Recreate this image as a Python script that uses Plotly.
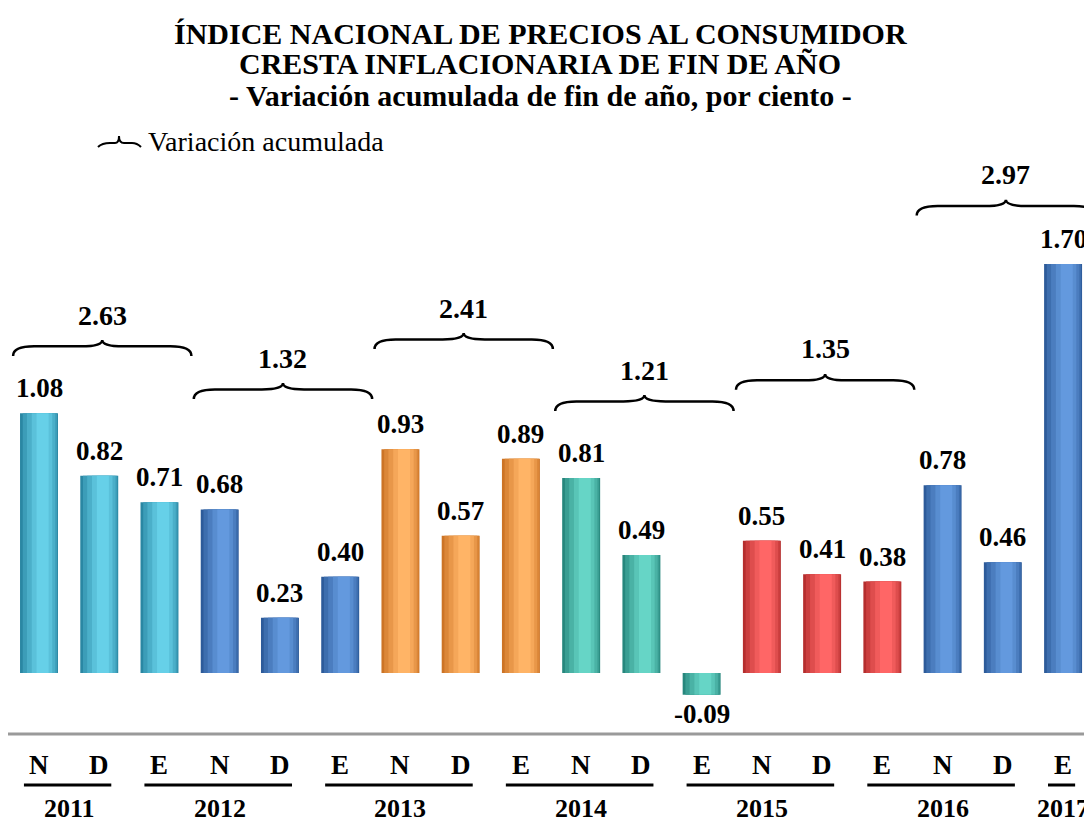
import plotly.graph_objects as go

# data
MONTHS = ["N", "D", "E", "N", "D", "E", "N", "D", "E",
          "N", "D", "E", "N", "D", "E", "N", "D", "E"]
VALUES = [1.08, 0.82, 0.71, 0.68, 0.23, 0.40, 0.93, 0.57, 0.89,
          0.81, 0.49, -0.09, 0.55, 0.41, 0.38, 0.78, 0.46, 1.70]
YEARS = ["2011", "2012", "2013", "2014", "2015", "2016", "2017"]
YEAR_MONTHS = [2, 3, 3, 3, 3, 3, 1]
CUMULATIVE = [2.63, 1.32, 2.41, 1.21, 1.35, 2.97]

# styling; the page body adds an 8px margin, so the figure is a bit smaller
PAGE_MARGIN = 8
W, H = 1092 - PAGE_MARGIN, 821 - PAGE_MARGIN
FONT = "Liberation Serif"
# (light, dark) per 3-month group
GROUP_COLORS = [
    ("#66d0e8", "#2a87a3"),
    ("#6399de", "#2d5b9a"),
    ("#ffb466", "#cc7426"),
    ("#66d5c6", "#27877d"),
    ("#ff6666", "#b52e2e"),
    ("#6399de", "#2d5b9a"),
]
BRACE_TIP = [1.384, 1.205, 1.413, 1.155, 1.243, 1.967]
BRACE_DROP = 0.066
# (left, right, share of light colour) for the cylinder shading layers
LAYERS = [(-0.315, 0.315, 0.0), (-0.27, 0.30, 0.3), (-0.20, 0.27, 0.55),
          (-0.12, 0.22, 0.8), (-0.04, 0.16, 1.0)]


def mix(light, dark, t):
    a = [int(light[i:i + 2], 16) for i in (1, 3, 5)]
    b = [int(dark[i:i + 2], 16) for i in (1, 3, 5)]
    return "rgb(%d,%d,%d)" % tuple(round(b[k] + (a[k] - b[k]) * t) for k in range(3))


def px(x):
    return (x - PAGE_MARGIN) / W


def py(y):
    return 1 - (y - PAGE_MARGIN) / H


xs = list(range(len(VALUES)))
fig = go.Figure()

for left, right, t in LAYERS:
    colors = [mix(*GROUP_COLORS[i // 3], t) for i in xs]
    fig.add_trace(go.Bar(
        x=xs, y=VALUES, width=right - left, offset=left,
        marker=dict(color=colors, line=dict(width=0)),
        hoverinfo="skip",
    ))

annotations = []
shapes = []

# value labels
for i, v in zip(xs, VALUES):
    annotations.append(dict(
        x=i, y=v, xref="x", yref="y", text=f"<b>{v:.2f}</b>", showarrow=False,
        yanchor="middle", yshift=25 if v >= 0 else -19,
        font=dict(family=FONT, size=27, color="black"),
    ))

# braces with cumulative variation
for k, cum in enumerate(CUMULATIVE):
    xc = 3 * k + 1.05
    x0, x1 = xc - 1.48, xc + 1.48
    yt = BRACE_TIP[k]
    ye = yt - BRACE_DROP
    ym = ye + 0.6 * BRACE_DROP
    d = 0.35
    path = (f"M {x0},{ye} Q {x0},{ym} {x0 + d},{ym} L {xc - d},{ym} "
            f"Q {xc},{ym} {xc},{yt} Q {xc},{ym} {xc + d},{ym} "
            f"L {x1 - d},{ym} Q {x1},{ym} {x1},{ye}")
    shapes.append(dict(type="path", xref="x", yref="y", path=path,
                       line=dict(color="black", width=2.5)))
    annotations.append(dict(
        x=xc, y=yt, xref="x", yref="y", text=f"<b>{cum:.2f}</b>", showarrow=False,
        yanchor="middle", yshift=25,
        font=dict(family=FONT, size=28, color="black"),
    ))

# month letters
for i, m in zip(xs, MONTHS):
    annotations.append(dict(
        x=i, y=py(765), xref="x", yref="paper", text=f"<b>{m}</b>", showarrow=False,
        yanchor="middle", font=dict(family=FONT, size=27, color="black"),
    ))

# years with underline
start = 0
for year, n in zip(YEARS, YEAR_MONTHS):
    first, last = start, start + n - 1
    shapes.append(dict(type="line", xref="x", yref="paper",
                       x0=first - 0.25, x1=last + 0.2, y0=py(785), y1=py(785),
                       line=dict(color="black", width=3)))
    annotations.append(dict(
        x=(first + last) / 2, y=py(808), xref="x", yref="paper",
        text=f"<b>{year}</b>", showarrow=False, yanchor="middle",
        font=dict(family=FONT, size=26, color="black"),
    ))
    start += n

# gray separator line
shapes.append(dict(type="line", xref="paper", yref="paper",
                   x0=0, x1=1, y0=py(734), y1=py(734),
                   line=dict(color="#9a9a9a", width=3)))

# title
for text, y in [("ÍNDICE NACIONAL DE PRECIOS AL CONSUMIDOR", 33),
                ("CRESTA INFLACIONARIA DE FIN DE AÑO", 64),
                ("- Variación acumulada de fin de año, por ciento -", 95)]:
    annotations.append(dict(
        x=px(540), y=py(y), xref="paper", yref="paper", text=f"<b>{text}</b>",
        showarrow=False, yanchor="middle", xanchor="center",
        font=dict(family=FONT, size=30, color="black"),
    ))

# legend
shapes.append(dict(
    type="path", xref="paper", yref="paper",
    path=(f"M {px(98)},{py(147)} Q {px(102)},{py(143)} {px(110)},{py(143)} "
          f"L {px(115)},{py(143)} Q {px(119)},{py(143)} {px(119)},{py(136)} "
          f"Q {px(119)},{py(143)} {px(124)},{py(143)} L {px(132)},{py(143)} "
          f"Q {px(137)},{py(143)} {px(141)},{py(147)}"),
    line=dict(color="black", width=2),
))
annotations.append(dict(
    x=px(146), y=py(141), xref="paper", yref="paper", text="Variación acumulada",
    showarrow=False, xanchor="left", yanchor="middle",
    font=dict(family=FONT, size=28, color="black"),
))

fig.update_layout(
    width=W, height=H,
    margin=dict(l=0, r=0, t=0, b=0),
    paper_bgcolor="white", plot_bgcolor="white",
    barmode="overlay", showlegend=False,
    xaxis=dict(range=[(PAGE_MARGIN - 39) / 60.24, (1092 - 39) / 60.24],
               visible=False, fixedrange=True),
    yaxis=dict(range=[-(821 - 673) / 240.6, (673 - PAGE_MARGIN) / 240.6],
               visible=False, fixedrange=True),
    annotations=annotations, shapes=shapes,
)

fig.write_html("out.html")
